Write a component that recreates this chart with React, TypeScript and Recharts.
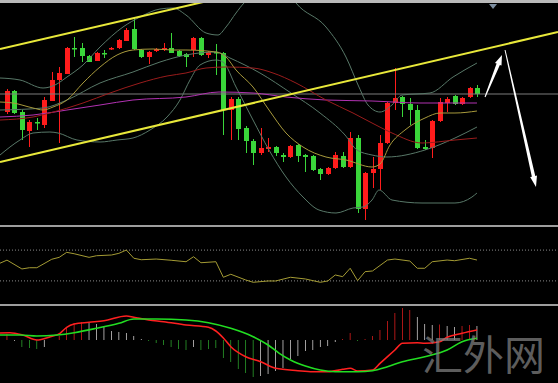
import { ComposedChart, Bar, Line, XAxis, YAxis, ReferenceLine, ReferenceDot, Cell } from "recharts";

// candle prices (arbitrary price units)
const opens = [118, 139, 118, 99, 108, 105, 129, 150, 156, 182, 182, 174, 169, 177, 180.5, 182, 189, 201, 180, 173, 179, 180, 182, 179, 176, 180, 192, 175, 178, 177, 120, 131, 102, 89, 77, 81, 83, 75, 73, 85, 75, 74, 61, 56, 62, 74, 63, 92, 21, 57, 61, 87, 127, 133, 126, 120, 83, 82, 109, 127, 134, 126, 133, 142];
const closes = [139, 117, 100, 108, 107, 130, 150, 157, 182, 181, 174, 168, 177, 176, 182, 190, 200, 181, 173, 178, 181, 182, 177, 174, 173, 192, 175, 178, 177, 120, 131, 101, 89, 77, 82, 83, 77, 73, 84, 74, 73, 60, 56, 62, 75, 63, 92, 21, 57, 61, 87, 127, 132, 126, 120, 82, 81, 109, 128, 131, 126, 132, 142, 136];
const highs = [141, 140, 120, 110, 112, 133, 158, 163, 183, 193, 187, 175, 178, 180, 183, 191, 202, 212, 181, 179, 182, 187, 197, 180, 177, 193, 193, 179, 186, 178, 133, 133, 104, 91, 102, 92, 84, 77, 85, 86, 76, 75, 62, 63, 78, 78, 98, 95, 58, 73, 95, 128, 162, 134, 132, 125, 90, 110, 132, 133, 135, 133, 143, 145];
const lows = [116, 116, 90, 83, 100, 102, 129, 87, 156, 173, 168, 168, 169, 172, 180, 181, 189, 180, 172, 166, 178, 179, 177, 173, 163, 173, 174, 172, 155, 95, 90, 90, 77, 65, 75, 78, 74, 68, 72, 68, 58, 59, 50, 55, 61, 62, 62, 17, 10, 42, 40, 86, 120, 113, 105, 81, 80, 72, 108, 118, 125, 125, 132, 133];

// overlay lines, [candle index, value]
const bbUpper = [[-0.94, 152], [1.74, 150], [4.83, 142], [6.43, 145], [8.04, 153], [10.19, 165], [12.47, 183], [15.55, 203], [17.83, 213], [20.51, 221], [22.25, 222], [23.99, 215], [26.68, 197], [28.28, 195], [29.36, 203], [30.7, 217], [31.77, 227], [33.91, 238], [36.33, 240], [37.94, 235], [38.74, 227], [42.76, 203], [45.44, 173], [47.18, 143], [48.39, 125], [50, 118], [51.6, 125], [52.95, 135], [56.7, 137], [59.79, 153], [63, 167]];
const bbMid = [[-0.94, 120], [4.83, 122], [8.04, 130], [12.47, 147], [16.89, 158], [20.51, 168], [23.99, 175], [28.02, 178], [29.89, 172], [33.91, 157], [38.07, 137], [41.96, 117], [45.31, 95], [46.92, 80], [48.93, 75], [50.94, 73], [56.03, 80], [60.05, 92], [63, 103]];
const bbLower = [[-0.94, 75], [1.74, 90], [3.49, 97], [5.76, 98], [6.84, 97], [9.38, 90], [12.47, 88], [14.75, 90], [16.89, 92], [19.17, 100], [21.45, 113], [23.19, 130], [24.53, 150], [25.87, 165], [28.02, 170], [28.95, 168], [30.7, 143], [32.98, 110], [35.12, 80], [37.4, 53], [39.68, 33], [41.82, 20], [44.1, 17], [46.38, 22], [47.72, 23], [48.93, 30], [49.87, 40], [51.61, 30], [55.63, 27], [60.05, 27], [62.33, 33], [63, 37]];
const maFast = [[-0.94, 128], [0.8, 127], [3.49, 122], [4.83, 120], [6.17, 123], [8.04, 130], [10.19, 147], [12.47, 163], [14.75, 175], [16.89, 180], [19.57, 181], [22.25, 180], [23.99, 180], [28.02, 178], [29.36, 173], [30.7, 160], [32.98, 143], [35.12, 120], [37.4, 97], [39.68, 83], [42.76, 73], [45.44, 70], [48.93, 63], [50, 66], [51.34, 85], [53.35, 100], [56.03, 112], [58.04, 117], [60.05, 117], [63, 119]];
const maSlow = [[-0.94, 110], [3.49, 113], [5.76, 117], [10.19, 127], [13.81, 137], [17.83, 147], [21.45, 154], [23.99, 157], [26.68, 162], [29.36, 163], [32.98, 162], [35.66, 157], [38.74, 147], [42.76, 130], [46.38, 117], [48.93, 107], [51.61, 97], [55.63, 87], [60.05, 90], [63, 92]];
const maLong = [[-0.94, 113], [3.49, 115], [8.04, 120], [12.47, 125], [16.89, 130], [23.99, 133], [28.42, 138], [32.98, 137], [37.4, 133], [42.76, 130], [48.93, 129], [55.36, 127], [63, 127]];

const lastPrice = 136;

// oscillator panel
const rsi = [[-0.94, 53], [0, 57], [2, 45.5], [3, 47.1], [4, 47.1], [6, 58.1], [7, 60.6], [8, 67.1], [9, 65.3], [11, 60.6], [12, 62.7], [14, 63.6], [15, 65.8], [16, 70.1], [17, 59.4], [18, 57.5], [20, 58.4], [22, 56.8], [24, 54.9], [25, 61.4], [26, 53.6], [28, 54.9], [29, 34.7], [30, 38.6], [32, 31.2], [33, 28.2], [35, 29.9], [36, 29.9], [38, 34.7], [40, 32.5], [42, 28.2], [43, 29.9], [44, 37.7], [45, 35.5], [46, 46.4], [47, 30.3], [48, 42], [49, 42.9], [51, 57.1], [52, 58.4], [54, 55.8], [55, 46.4], [56, 46.4], [57, 54.9], [59, 57.1], [60, 56.2], [62, 59.4], [63, 57.1]];

// MACD panel
const hist = [6, -1, -7, -8, -9, -7, null, 4, 13, 17, 18, 17, 16, 13, 9, 8, 7, 4, 1, -1, -3, -5, -7, -9, -10, -7, -10, -9, -8, -18, -22, -29, -33, -37, -36, -34, -31, -28, -19, -16, -11, -10, -7, -6, -2, 1, 7, -1, 1, 4, 10, 19, 27, 32, 30, 23, 16, 15, 15.5, 14, 13, 14, 15, 14];
const histTone = "rwgggwrrrrrwwwwwwwwggggggwggggggggwwwwwwwwwwwrrgrrrrrrrwwwrwwrrw";
const macdLine = [[-0.94, 7], [0.4, 7.3], [2.1, 5], [4, 0], [5.8, 3.3], [7.1, 6.7], [8, 12.7], [9, 16], [11, 17.7], [13, 19.3], [16, 24], [17, 22.7], [19, 20], [21, 18.3], [24, 15], [27, 12.7], [28, 9], [29, 2], [30, -6.7], [32, -16.7], [34, -21.7], [36, -28.3], [39, -30.7], [41, -31.7], [43, -31.7], [45, -29.3], [46, -28.3], [47, -31], [49, -30], [50, -23.3], [52, -10], [53, -3.3], [55, -2.7], [56, -3.3], [58, -1.7], [59, 2.7], [61, 6.7], [63, 10]];
const signalLine = [[-0.94, 5], [1.8, 5], [4, 4], [6.7, 5], [9, 7.3], [12, 11.7], [15, 16.7], [17, 21], [20, 21], [24, 20], [27, 17.3], [30, 11.7], [33, 3.3], [35, -5], [36.5, -13.3], [38, -20], [40, -26], [42, -30], [44, -31.7], [47, -31.7], [49, -30.7], [51, -26.7], [53, -21.7], [56, -16.7], [59, -10], [61, -1.7], [63, 1.7]];

const RED = "#ff1c1c";
const GREEN = "#3ad63a";
const BB = "#587868";
const BODY_W = 5;
const X_DOMAIN: [number, number] = [-0.938, 73.86];
const W = 558;

const candles = opens.map((o, i) => ({ i, o, c: closes[i], h: highs[i], l: lows[i], range: [lows[i], highs[i]] }));
const histData = hist.map((v, i) => ({ i, v }));
const pts = (pairs: number[][]) => pairs.map(([i, v]) => ({ i, v }));

const toneColor: Record<string, string> = { r: "#ff2222", w: "#f2eeee", g: "#33bb33" };

function Candle(props: any) {
    const { x, y, width, height, payload } = props;
    const top = Math.min(y, y + height);
    const span = Math.abs(height);
    const k = span / (payload.h - payload.l);
    const cx = Math.round(x + width / 2) + 0.5;
    const yo = top + (payload.h - payload.o) * k;
    const yc = top + (payload.h - payload.c) * k;
    const color = payload.c >= payload.o ? RED : GREEN;
    return (
        <g>
            <line x1={cx} x2={cx} y1={top} y2={top + span} stroke={color} strokeWidth={1} />
            <rect x={cx - BODY_W / 2} y={Math.min(yo, yc)} width={BODY_W} height={Math.max(1.5, Math.abs(yo - yc))} fill={color} />
        </g>
    );
}

function arrow(tailW: number, shaftW: number, headW: number, headLen: number) {
    return (p: any) => {
        const { x1, y1, x2, y2 } = p;
        const len = Math.hypot(x2 - x1, y2 - y1);
        const ux = (x2 - x1) / len, uy = (y2 - y1) / len;
        const nx = -uy, ny = ux;
        const bx = x2 - ux * headLen, by = y2 - uy * headLen;
        const q = [
            [x1 + nx * tailW / 2, y1 + ny * tailW / 2],
            [bx + nx * shaftW / 2, by + ny * shaftW / 2],
            [bx + nx * headW / 2, by + ny * headW / 2],
            [x2, y2],
            [bx - nx * headW / 2, by - ny * headW / 2],
            [bx - nx * shaftW / 2, by - ny * shaftW / 2],
            [x1 - nx * tailW / 2, y1 - ny * tailW / 2],
        ];
        return <polygon points={q.map((a) => a.join(",")).join(" ")} fill="#ffffff" />;
    };
}

const marker = (p: any) => (
    <polygon points={`${p.cx - 4},${p.cy - 2} ${p.cx + 4},${p.cy - 2} ${p.cx},${p.cy + 3}`} fill="#7d8ea0" />
);

const margin = { top: 0, right: 0, bottom: 0, left: 0 };

export default function App() {
    const line = (data: number[][], color: string, width = 1, type: any = "monotone") => (
        <Line data={pts(data)} dataKey="v" type={type} stroke={color} strokeWidth={width} dot={false} isAnimationActive={false} />
    );
    return (
        <div style={{ position: "absolute", left: 0, top: 0, width: W, height: 383, background: "#000", overflow: "hidden" }}>
            <div style={{ height: 3, background: "#b9b9b9" }} />
            <ComposedChart width={W} height={222} data={candles} margin={margin}>
                <XAxis type="number" dataKey="i" domain={X_DOMAIN} hide allowDataOverflow />
                <YAxis type="number" domain={[5, 227]} hide allowDataOverflow />
                <ReferenceLine y={lastPrice} stroke="#7c7c7c" strokeWidth={1} />
                {line(bbUpper, BB)}
                {line(bbMid, BB)}
                {line(bbLower, BB)}
                {line(maLong, "#b232b2")}
                {line(maSlow, "#9a1c1c")}
                {line(maFast, "#a89a3c")}
                <Bar dataKey="range" shape={Candle} barSize={5} isAnimationActive={false} />
                <ReferenceLine segment={[{ x: -0.938, y: 181 }, { x: 73.86, y: 310 }]} stroke="#e8e83a" strokeWidth={2} ifOverflow="hidden" />
                <ReferenceLine segment={[{ x: -0.938, y: 68 }, { x: 73.86, y: 198 }]} stroke="#e8e83a" strokeWidth={2} ifOverflow="hidden" />
                <ReferenceLine segment={[{ x: 64.08, y: 133 }, { x: 66.35, y: 175 }]} ifOverflow="visible" shape={arrow(1, 3.5, 7, 10)} />
                <ReferenceLine segment={[{ x: 66.76, y: 180 }, { x: 70.91, y: 43 }]} ifOverflow="visible" shape={arrow(1, 3.5, 7, 11)} />
                <ReferenceDot x={65.15} y={224} r={3} shape={marker} ifOverflow="visible" />
            </ComposedChart>
            <div style={{ height: 2, background: "#9d9d9d" }} />
            <ComposedChart width={W} height={77} margin={margin}>
                <XAxis type="number" dataKey="i" domain={X_DOMAIN} hide allowDataOverflow />
                <YAxis type="number" domain={[0, 100]} hide allowDataOverflow />
                <ReferenceLine y={70} stroke="#8a8a8a" strokeDasharray="1 2" />
                <ReferenceLine y={30} stroke="#8a8a8a" strokeDasharray="1 2" />
                {line(rsi, "#a49b34", 1, "linear")}
            </ComposedChart>
            <div style={{ height: 2, background: "#9d9d9d" }} />
            <ComposedChart width={W} height={77} data={histData} margin={margin}>
                <XAxis type="number" dataKey="i" domain={X_DOMAIN} hide allowDataOverflow />
                <YAxis type="number" domain={[-43, 34]} hide allowDataOverflow />
                <Bar dataKey="v" barSize={2} isAnimationActive={false}>
                    {histData.map((_d, i) => (
                        <Cell key={i} fill={toneColor[histTone[i]]} />
                    ))}
                </Bar>
                {line(macdLine, "#ff2020", 1.6)}
                {line(signalLine, "#22dd22", 1.6)}
            </ComposedChart>
            <div
                style={{
                    position: "absolute", left: 422, top: 332, fontSize: 41, lineHeight: "41px",
                    fontFamily: "'Noto Sans CJK SC'", color: "rgba(130,130,130,0.72)", pointerEvents: "none",
                }}
            >
                汇外网
            </div>
        </div>
    );
}
